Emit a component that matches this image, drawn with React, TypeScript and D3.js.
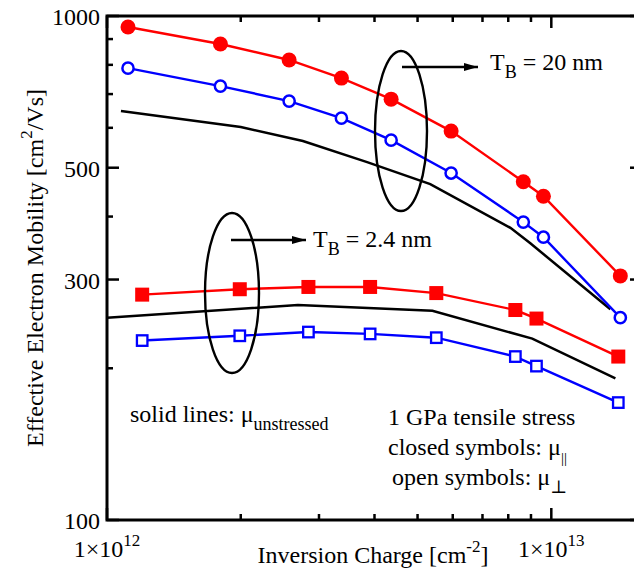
import React, { useRef, useEffect } from 'react';
import * as d3 from 'd3';

// T_B = 20 nm
const xCircles = [1.115e12, 1.8e12, 2.57e12, 3.37e12, 4.36e12, 5.95e12, 8.65e12, 9.6e12, 1.43e13];
const muPar20 = [951, 880, 818, 753, 684, 591, 469, 439, 305];
const muPerp20 = [788, 726, 678, 627, 567, 488, 390, 364, 252];
const xUnstr20 = [1.075e12, 2.0e12, 2.76e12, 3.85e12, 5.34e12, 8.09e12, 8.97e12, 1.358e13];
const muUnstr20 = [648, 602, 565, 513, 464, 380, 354, 262];

// T_B = 2.4 nm
const xSquares = [1.2e12, 1.99e12, 2.84e12, 3.91e12, 5.51e12, 8.3e12, 9.26e12, 1.415e13];
const muPar24 = [280, 287, 290, 290, 282, 261, 251, 211];
const muPerp24 = [227, 232, 236, 234, 230, 211, 202, 171];
const xUnstr24 = [1.0e12, 2.69e12, 5.4e12, 9.06e12, 1.394e13];
const muUnstr24 = [252, 267, 260, 229, 191];

const yTicks = [100, 200, 300, 400, 500, 600, 700, 800, 900, 1000];
const yLabeled = [100, 300, 500, 1000];
const xTicks = [1e12, 2e12, 3e12, 4e12, 5e12, 6e12, 7e12, 8e12, 9e12, 1e13];
const xLabeled = [1e12, 1e13];

const W = 634;
const H = 569;
const FONT = '"Liberation Serif", "DejaVu Serif", serif';

const App = () => {
  const svgRef = useRef(null);

  useEffect(() => {
    const svg = d3.select(svgRef.current);
    svg.selectAll('*').remove();

    const left = 107, right = 642, top = 16, bottom = 520;

    const x = d3.scaleLog().domain([1e12, 1.6e13]).range([left, right]);
    const y = d3.scaleLog().domain([100, 1000]).range([bottom, top]);

    const g = svg.append('g');

    const line = d3.line<[number, number]>()
      .x(d => x(d[0]))
      .y(d => y(d[1]));

    const zip = (xs: number[], ys: number[]) => xs.map((v, i) => [v, ys[i]] as [number, number]);

    // lines
    const series = [
      { xs: xUnstr20, ys: muUnstr20, color: '#000', w: 2.5 },
      { xs: xUnstr24, ys: muUnstr24, color: '#000', w: 2.5 },
      { xs: xCircles, ys: muPar20, color: '#ff0000', w: 2.4 },
      { xs: xCircles, ys: muPerp20, color: '#0000ff', w: 2.4 },
      { xs: xSquares, ys: muPar24, color: '#ff0000', w: 2.4 },
      { xs: xSquares, ys: muPerp24, color: '#0000ff', w: 2.4 },
    ];
    series.forEach(s => {
      g.append('path')
        .attr('d', line(zip(s.xs, s.ys)))
        .attr('fill', 'none')
        .attr('stroke', s.color)
        .attr('stroke-width', s.w);
    });

    // markers
    g.selectAll('.c-closed')
      .data(zip(xCircles, muPar20))
      .enter().append('circle')
      .attr('cx', d => x(d[0])).attr('cy', d => y(d[1]))
      .attr('r', 7.5)
      .attr('fill', '#ff0000');

    g.selectAll('.c-open')
      .data(zip(xCircles, muPerp20))
      .enter().append('circle')
      .attr('cx', d => x(d[0])).attr('cy', d => y(d[1]))
      .attr('r', 5.6)
      .attr('fill', 'white')
      .attr('stroke', '#0000ff')
      .attr('stroke-width', 2.5);

    const sq = 14;
    g.selectAll('.s-closed')
      .data(zip(xSquares, muPar24))
      .enter().append('rect')
      .attr('x', d => x(d[0]) - sq / 2).attr('y', d => y(d[1]) - sq / 2)
      .attr('width', sq).attr('height', sq)
      .attr('fill', '#ff0000');

    const so = 10.5;
    g.selectAll('.s-open')
      .data(zip(xSquares, muPerp24))
      .enter().append('rect')
      .attr('x', d => x(d[0]) - so / 2).attr('y', d => y(d[1]) - so / 2)
      .attr('width', so).attr('height', so)
      .attr('fill', 'white')
      .attr('stroke', '#0000ff')
      .attr('stroke-width', 2.3);

    // frame
    g.append('rect')
      .attr('x', left).attr('y', top)
      .attr('width', right - left).attr('height', bottom - top)
      .attr('fill', 'none')
      .attr('stroke', '#000')
      .attr('stroke-width', 3);

    // ticks
    yTicks.forEach(t => {
      const len = yLabeled.includes(t) ? 12 : 6;
      const yy = y(t);
      g.append('line').attr('x1', left).attr('x2', left + len).attr('y1', yy).attr('y2', yy)
        .attr('stroke', '#000').attr('stroke-width', 2.5);
      g.append('line').attr('x1', right).attr('x2', right - len).attr('y1', yy).attr('y2', yy)
        .attr('stroke', '#000').attr('stroke-width', 2.5);
    });
    xTicks.forEach(t => {
      const len = xLabeled.includes(t) ? 12 : 6;
      const xx = x(t);
      g.append('line').attr('x1', xx).attr('x2', xx).attr('y1', bottom).attr('y2', bottom - len)
        .attr('stroke', '#000').attr('stroke-width', 2.5);
      g.append('line').attr('x1', xx).attr('x2', xx).attr('y1', top).attr('y2', top + len)
        .attr('stroke', '#000').attr('stroke-width', 2.5);
    });

    const txt = g.append('g').style('font-family', FONT).attr('fill', '#000');

    // y tick labels
    yLabeled.forEach(t => {
      txt.append('text')
        .attr('x', left - 7).attr('y', y(t) + 9)
        .attr('text-anchor', 'end')
        .style('font-size', '24px')
        .text(t);
    });

    // x tick labels
    xLabeled.forEach(t => {
      const e = Math.round(Math.log10(t));
      const tx = txt.append('text')
        .attr('x', x(t)).attr('y', 557)
        .attr('text-anchor', 'middle')
        .style('font-size', '24px');
      tx.append('tspan').text('1×10');
      tx.append('tspan').attr('dy', -11).style('font-size', '17px').text(e);
    });

    // axis titles
    const xt = txt.append('text')
      .attr('x', 373).attr('y', 563)
      .attr('text-anchor', 'middle')
      .style('font-size', '24px');
    xt.append('tspan').text('Inversion Charge [cm');
    xt.append('tspan').attr('dy', -11).style('font-size', '17px').text('-2');
    xt.append('tspan').attr('dy', 11).text(']');

    const yt = txt.append('text')
      .attr('transform', 'translate(43,268) rotate(-90)')
      .attr('text-anchor', 'middle')
      .style('font-size', '24px');
    yt.append('tspan').text('Effective Electron Mobility [cm');
    yt.append('tspan').attr('dy', -11).style('font-size', '17px').text('2');
    yt.append('tspan').attr('dy', 11).text('/Vs]');

    // annotations
    const ann = g.append('g').attr('fill', 'none').attr('stroke', '#000').attr('stroke-width', 2.4);
    ann.append('ellipse').attr('cx', 401).attr('cy', 131).attr('rx', 26).attr('ry', 80);
    ann.append('ellipse').attr('cx', 232).attr('cy', 293).attr('rx', 27).attr('ry', 80);

    const defs = svg.append('defs');
    defs.append('marker')
      .attr('id', 'arrow')
      .attr('viewBox', '0 0 12 10')
      .attr('refX', 12).attr('refY', 5)
      .attr('markerWidth', 6).attr('markerHeight', 5)
      .attr('markerUnits', 'strokeWidth')
      .attr('orient', 'auto')
      .append('path').attr('d', 'M0,1.5 L12,5 L0,8.5 Z').attr('fill', '#000');

    ann.append('line').attr('x1', 402).attr('x2', 478).attr('y1', 67).attr('y2', 67)
      .attr('marker-end', 'url(#arrow)');
    ann.append('line').attr('x1', 231).attr('x2', 306).attr('y1', 240).attr('y2', 240)
      .attr('marker-end', 'url(#arrow)');

    const tb = (tx0: number, ty0: number, rest: string) => {
      const t = txt.append('text').attr('x', tx0).attr('y', ty0).style('font-size', '24px');
      t.append('tspan').text('T');
      t.append('tspan').attr('dy', 8).style('font-size', '18px').text('B');
      t.append('tspan').attr('dy', -8).text(rest);
    };
    tb(490, 70, ' = 20 nm');
    tb(313, 247, ' = 2.4 nm');

    const mu = (tx0: number, ty0: number, main: string, sub: string, subSize: number) => {
      const t = txt.append('text').attr('x', tx0).attr('y', ty0).style('font-size', '24px');
      t.append('tspan').text(main);
      t.append('tspan').attr('dy', 8).style('font-size', `${subSize}px`).text(sub);
    };
    mu(130, 422, 'solid lines: μ', 'unstressed', 18);
    txt.append('text').attr('x', 388).attr('y', 425).style('font-size', '24px').text('1 GPa tensile stress');
    mu(388, 455, 'closed symbols: μ', '||', 15);
    mu(392, 485, 'open symbols: μ', '⊥', 18);
  }, []);

  return (
    <svg
      ref={svgRef}
      width={W}
      height={H}
      style={{ position: 'absolute', left: 0, top: 0, background: 'white', display: 'block' }}
    />
  );
};

export default App;
